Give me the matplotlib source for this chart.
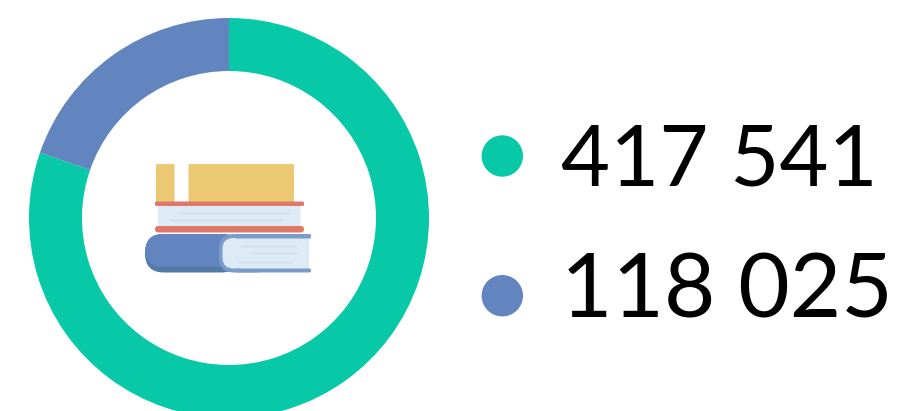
import matplotlib
matplotlib.use("Agg")
import matplotlib.pyplot as plt
from matplotlib.patches import FancyBboxPatch, Circle, Rectangle

plt.rcParams['font.family'] = ['Lato', 'DejaVu Sans']

labels = ["417 541", "118 025"]
# Slice shares as read from the drawn ring (%)
slice_shares = [80.3, 19.7]
colors = ["#08C9A7", "#6285BF"]

fig = plt.figure(figsize=(9.01, 4.11), dpi=100, facecolor="white")
ax = fig.add_axes([0, 0, 1, 1])

# y axis is inverted below, so start at 270 and run counterclockwise in data space
ax.pie(slice_shares, colors=colors, startangle=270, counterclock=True,
       center=(229, 218), radius=200,
       wedgeprops=dict(width=53, linewidth=0), frame=True)
ax.set_xlim(0, 901)
ax.set_ylim(411, 0)
ax.set_aspect("equal")
ax.axis("off")


def rbox(x0, y0, x1, y1, r, color, z=3):
    ax.add_patch(FancyBboxPatch((x0 + r, y0 + r), x1 - x0 - 2 * r, y1 - y0 - 2 * r,
                                boxstyle=f"round,pad={r},rounding_size={r}",
                                fc=color, ec="none", zorder=z))


def rule(x0, x1, y, color="#D6DCE2", lw=1.0):
    ax.plot([x0, x1], [y, y], color=color, lw=lw, zorder=6, solid_capstyle="round")


# Book icon
yellow, red, pale = "#EBC871", "#E0786A", "#DCEBF6"
rbox(156, 164, 174.5, 203, 1.5, yellow)
rbox(188.5, 164, 294, 203, 1.5, yellow)
rbox(158, 205, 300.5, 227, 0.5, pale)
rbox(155, 201.5, 304, 206, 1.5, red, 4)
rbox(155, 226, 304, 232.5, 3, red, 4)
rule(178, 290, 212.5)
rule(170, 282, 220)

# Lower book: spine, shade, cover edge, pages
rbox(145, 234, 240, 272.5, 19, "#517AA9", 3)
rbox(145.5, 234, 240, 267, 17, "#6285BF", 3.5)
rbox(219, 234, 270, 272.5, 15, "#7B9CCB", 4)
ax.add_patch(Rectangle((240, 238), 69, 30.5, fc=pale, ec="none", zorder=5))
rbox(222.5, 238, 262, 268.5, 11, pale, 5)
rule(241, 296, 245.5)
rule(250, 296, 253)
rule(238, 292, 261.5)
rbox(235, 234, 311, 238.5, 1.5, "#7B9CCB", 5)
rbox(235, 268.5, 311, 272.5, 1.5, "#7B9CCB", 5)

# Legend dots and numbers
for label, color, cy, base, size in zip(labels, colors, [156, 295.7], [185, 317], [61, 64]):
    ax.add_patch(Circle((502.3, cy), 20.7, fc=color, ec="none", zorder=3))
    ax.text(561, base, label, fontsize=size, color="black", ha="left", va="baseline",
            fontweight="normal")

fig.savefig("out.png", dpi=100, facecolor="white")
